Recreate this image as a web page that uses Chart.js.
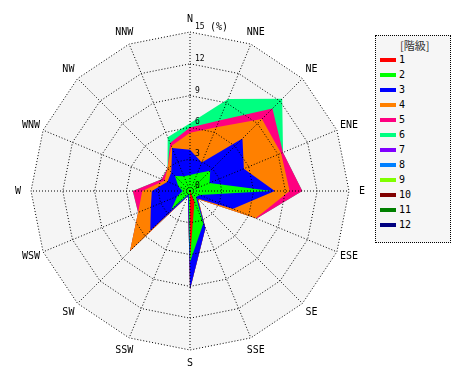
<!DOCTYPE html>
<html>
<head>
<meta charset="utf-8">
<script src="https://cdn.jsdelivr.net/npm/chart.js@4.4.1/dist/chart.umd.min.js"></script>
<style>
html,body{margin:0;padding:0;background:#fff;}
#wrap{position:relative;width:470px;height:380px;overflow:hidden;}
#c{position:absolute;left:0;top:0;}
#legend{position:absolute;left:375px;top:35px;width:76px;height:208px;border:1px dotted #000;background:#f6f6f6;box-sizing:border-box;font-family:"DejaVu Sans Mono",monospace;font-size:10px;color:#000;}
#legend .t{position:absolute;left:24px;top:2px;font-family:"Noto Sans CJK JP","DejaVu Sans Mono",sans-serif;font-size:11px;line-height:14px;color:#333;white-space:nowrap;}
#legend .bar{position:absolute;left:4px;width:16px;height:4px;}
#legend .lab{position:absolute;left:23px;line-height:12px;height:12px;white-space:nowrap;}
</style>
</head>
<body>
<div id="wrap">
<canvas id="c" width="470" height="380"></canvas>
<div id="legend"></div>
</div>
<script>
// ---- data (cumulative frequency %) ----
const directions = ['N','NNE','NE','ENE','E','ESE','SE','SSE','S','SSW','SW','WSW','W','WNW','NW','NNW'];
const classLabels = ['1','2','3','4','5','6','7','8','9','10','11','12'];
const legendTitle = '[階級]';
const unitLabel = '(%)';
const tickValues = [0,3,6,9,12,15];
const classColors = ['#ff0000','#00ff00','#0000ff','#ff8000','#ff0080','#00ff80','#8000ff','#0080ff','#80ff00','#800000','#008000','#000080'];

const class1  = [0,0,0,0,0,0,0,1.1,6.4,0,0,0,0,0,0,0];
const class2  = [1.5,1.8,2.7,2.0,7.7,1.0,0.8,3.3,6.7,0.3,2.5,1.3,0.7,1.2,2.0,1.5];
const class3  = [3.9,2.9,7.0,5.5,8.0,4.4,1.0,3.8,9.3,0.5,5.3,4.0,3.6,2.3,2.5,4.4];
const class4  = [5.5,6.5,9.6,9.3,9.4,6.7,1.1,3.8,9.3,0.5,8.0,5.3,4.5,2.6,3.0,4.6];
const class5  = [6.0,7.2,11.0,9.5,10.6,6.8,1.1,3.8,9.3,0.5,8.0,5.3,5.4,2.9,3.0,4.9];
const class6  = [6.4,9.4,12.3,9.5,10.6,6.8,1.1,3.8,9.3,0.5,8.0,5.3,5.4,2.9,3.0,5.5];
const class7  = [0,0,0,0,0,0,0,0,0,0,0,0,0,0,0,0];
const class8  = [0,0,0,0,0,0,0,0,0,0,0,0,0,0,0,0];
const class9  = [0,0,0,0,0,0,0,0,0,0,0,0,0,0,0,0];
const class10 = [0,0,0,0,0,0,0,0,0,0,0,0,0,0,0,0];
const class11 = [0,0,0,0,0,0,0,0,0,0,0,0,0,0,0,0];
const class12 = [0,0,0,0,0,0,0,0,0,0,0,0,0,0,0,0];
const seriesList = [class1,class2,class3,class4,class5,class6,class7,class8,class9,class10,class11,class12];

// ---- legend (HTML) ----
const lg = document.getElementById('legend');
const t = document.createElement('div'); t.className='t'; t.textContent = legendTitle; lg.appendChild(t);
classLabels.forEach((lab,i)=>{
  const cy = 24 + i*15;
  const b = document.createElement('div'); b.className='bar'; b.style.top=(cy-2)+'px'; b.style.background=classColors[i]; lg.appendChild(b);
  const l = document.createElement('div'); l.className='lab'; l.style.top=(cy-6)+'px'; l.textContent=lab; lg.appendChild(l);
});

// ---- plugin: scale background + text labels ----
const roseDecor = {
  id:'roseDecor',
  beforeDraw(chart){
    const s = chart.scales.r, ctx = chart.ctx;
    ctx.save();
    ctx.fillStyle = '#f5f5f5';
    ctx.beginPath();
    for(let i=0;i<directions.length;i++){
      const p = s.getPointPosition(i, s.drawingArea);
      if(i===0) ctx.moveTo(p.x,p.y); else ctx.lineTo(p.x,p.y);
    }
    ctx.closePath(); ctx.fill();
    ctx.restore();
  },
  afterDraw(chart){
    const s = chart.scales.r, ctx = chart.ctx;
    ctx.save();
    ctx.fillStyle = '#000';
    ctx.font = '10px "DejaVu Sans Mono"';
    ctx.textAlign = 'center'; ctx.textBaseline = 'middle';
    directions.forEach((d,i)=>{
      const p = s.getPointPosition(i, s.drawingArea + 13);
      ctx.fillText(d, p.x, p.y);
    });
    ctx.font = '8px "DejaVu Sans Mono"';
    ctx.textAlign = 'left';
    tickValues.forEach(v=>{
      const r = s.getDistanceFromCenterForValue(v);
      ctx.fillText(String(v), s.xCenter + 5, s.yCenter - r - 5);
    });
    ctx.font = '10px "DejaVu Sans Mono"';
    ctx.fillText(unitLabel, s.xCenter + 20, s.yCenter - s.drawingArea - 5);
    ctx.restore();
  }
};

new Chart(document.getElementById('c'), {
  type:'radar',
  data:{
    labels: directions,
    datasets: seriesList.map((d,i)=>({
      label: classLabels[i], data: d,
      backgroundColor: classColors[i], borderColor: classColors[i],
      borderWidth: 0, pointRadius: 0, fill: true
    }))
  },
  options:{
    responsive:false, animation:false, devicePixelRatio:1,
    layout:{padding:{left:31,right:120,top:32,bottom:29}},
    plugins:{legend:{display:false}, tooltip:{enabled:false}},
    elements:{line:{tension:0, borderWidth:0}, point:{radius:0}},
    scales:{
      r:{
        min:0, max:15,
        ticks:{stepSize:3, display:false},
        pointLabels:{display:false},
        grid:{color:'#000', lineWidth:1, z:1, circular:false},
        border:{dash:[1,2]},
        angleLines:{color:'#000', lineWidth:1, borderDash:[1,2]}
      }
    }
  },
  plugins:[roseDecor]
});
</script>
</body>
</html>
